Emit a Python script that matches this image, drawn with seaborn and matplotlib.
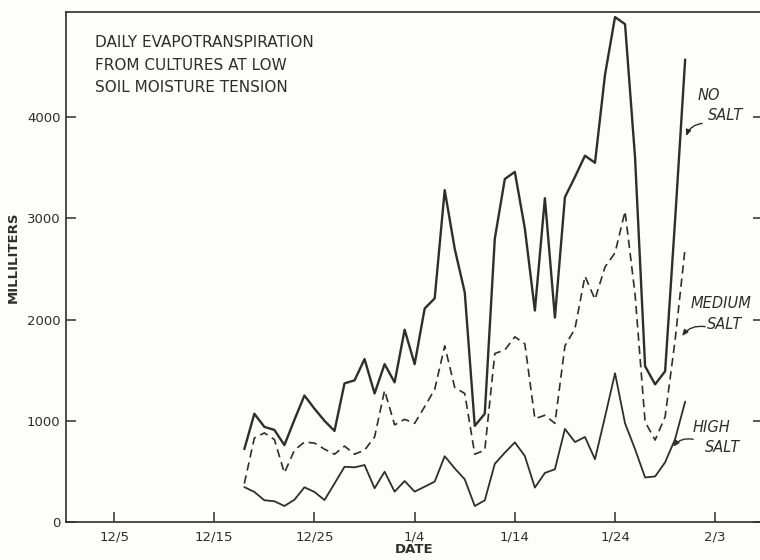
import numpy as np
import pandas as pd
import matplotlib
matplotlib.use("Agg")
import matplotlib.pyplot as plt
import seaborn as sns

# Day of the season, counted from Dec 1 (Dec 18 .. Jan 31)
days = list(range(18, 63))

no_salt = [720, 1070, 940, 910, 760, 1010, 1250, 1120, 1000, 900,
           1370, 1400, 1610, 1270, 1560, 1380, 1900, 1560, 2110, 2210,
           3280, 2700, 2270, 950, 1070, 2800, 3390, 3460, 2900, 2090,
           3200, 2020, 3210, 3410, 3620, 3550, 4420, 4990, 4920, 3600,
           1540, 1360, 1490, 2990, 4570]

medium_salt = [380, 830, 880, 815, 485, 710, 790, 780, 720, 670,
               750, 670, 710, 840, 1300, 960, 1015, 975, 1140, 1310,
               1740, 1330, 1270, 670, 710, 1665, 1700, 1830, 1760, 1020,
               1055, 975, 1740, 1910, 2430, 2200, 2520, 2660, 3070, 2250,
               990, 810, 1040, 1800, 2710]

high_salt = [345, 297, 215, 205, 158, 220, 343, 297, 217, 380,
             546, 540, 563, 333, 497, 300, 405, 300, 349, 399,
             650, 530, 422, 158, 214, 575, 685, 787, 652, 340,
             485, 521, 920, 790, 840, 620, 1040, 1470, 975, 720,
             440, 450, 590, 820, 1190]

tick_days = [5, 15, 25, 35, 45, 55, 65]
tick_labels = ["12/5", "12/15", "12/25", "1/4", "1/14", "1/24", "2/3"]
y_ticks = [0, 1000, 2000, 3000, 4000]

title_lines = ["DAILY EVAPOTRANSPIRATION",
               "FROM CULTURES AT LOW",
               "SOIL MOISTURE TENSION"]

df = pd.DataFrame({"day": days, "none": no_salt,
                   "medium": medium_salt, "high": high_salt})

sns.set_style("ticks")
plt.rcParams["font.family"] = ["DejaVu Sans"]

ink = "#2e2e2e"
paper = "#fdfdfb"

fig = plt.figure(figsize=(7.6, 5.6), dpi=100, facecolor=paper)
# the right-hand frame sits just past the figure edge; only its ticks show
ax = fig.add_axes([66 / 760, 38 / 560, 697 / 760, 510 / 560])
ax.set_facecolor(paper)

sns.lineplot(data=df, x="day", y="none", ax=ax, color=ink, lw=1.7)
sns.lineplot(data=df, x="day", y="medium", ax=ax, color=ink, lw=1.2,
             linestyle=(0, (5, 3)))
sns.lineplot(data=df, x="day", y="high", ax=ax, color=ink, lw=1.3)

ax.set_xlim(0.2, 69.77)
ax.set_ylim(0, 5040)

ax.set_xticks(tick_days)
ax.set_xticklabels(tick_labels, fontsize=9.5, color=ink)
ax.set_yticks(y_ticks)
ax.set_yticklabels([str(v) for v in y_ticks], fontsize=9.5, color=ink)
ax.tick_params(axis="both", direction="in", length=7.5, width=1.1,
               color=ink, pad=4)
ax.tick_params(axis="y", right=True, labelright=False)
ax.tick_params(axis="x", pad=6)

for side in ["left", "bottom", "top", "right"]:
    ax.spines[side].set_visible(True)
    ax.spines[side].set_color(ink)
    ax.spines[side].set_linewidth(1.2)

ax.set_xlabel("DATE", fontsize=9.5, fontweight="bold", color=ink, labelpad=0)
ax.set_ylabel("MILLILITERS", fontsize=9.5, fontweight="bold", color=ink)
ax.yaxis.set_label_coords(-0.066, 0.52)

for i, line in enumerate(title_lines):
    ax.text(3.1, 4743 - i * 227, line, fontsize=11, color=ink,
            ha="left", va="center")

label_style = dict(fontsize=10.5, style="italic", color=ink,
                   ha="left", va="center")
ax.text(63.2, 4219, "NO", **label_style)
ax.text(64.3, 4022, "SALT", **label_style)
ax.text(62.5, 2164, "MEDIUM", **label_style)
ax.text(64.2, 1947, "SALT", **label_style)
ax.text(62.7, 929, "HIGH", **label_style)
ax.text(64.0, 741, "SALT", **label_style)

arrow = dict(arrowstyle="-|>,head_length=0.35,head_width=0.15", color=ink,
             lw=1.0, connectionstyle="arc3,rad=0.3", shrinkA=0, shrinkB=0)
ax.annotate("", xy=(62.1, 3814), xytext=(63.7, 3939), arrowprops=arrow)
ax.annotate("", xy=(61.7, 1838), xytext=(64.0, 1930), arrowprops=arrow)
ax.annotate("", xy=(60.8, 744), xytext=(62.8, 817), arrowprops=arrow)

fig.savefig("out.png", dpi=100, facecolor=paper)
